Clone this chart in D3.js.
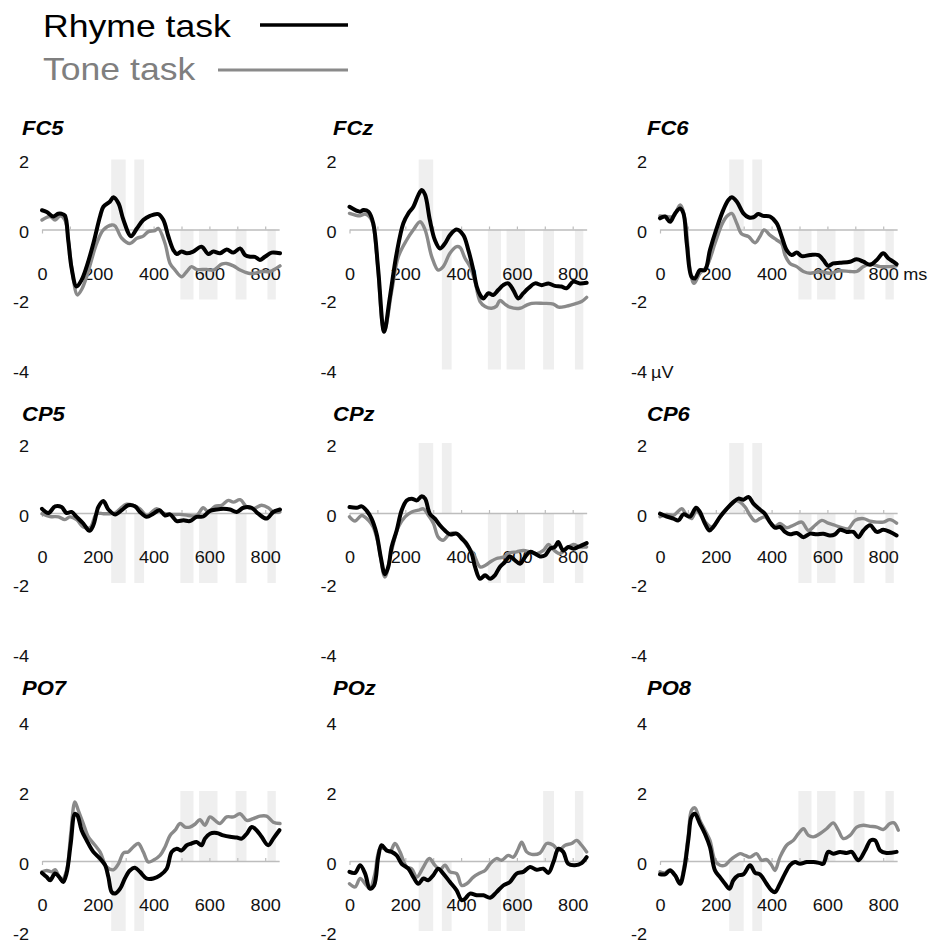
<!DOCTYPE html>
<html>
<head>
<meta charset="utf-8">
<script src="https://cdn.jsdelivr.net/npm/d3@7"></script>
<style>
  html, body { margin: 0; padding: 0; background: #fff; }
  svg { display: block; }
</style>
</head>
<body>
<svg id="chart" width="936" height="944"></svg>
<script>
// ERP grand averages (µV) for the rhyme and tone tasks at nine electrodes, as [ms, µV]
const electrodes = ["FC5", "FCz", "FC6", "CP5", "CPz", "CP6", "PO7", "POz", "PO8"];
const seriesNames = ["Rhyme task", "Tone task"];

const fc5Rhyme = [[0,0.55],[17,0.5],[40,0.37],[58,0.45],[70,0.45],[82,0.4],[94,-0.3],[106,-1.1],[124,-1.63],[142,-1.44],[160,-1.06],[184,-0.4],[208,0.37],[220,0.65],[244,0.8],[256,0.92],[274,0.75],[292,0.27],[319,-0.19],[340,0.03],[363,0.27],[387,0.39],[417,0.44],[435,0.27],[453,-0.2],[471,-0.59],[483,-0.7],[500,-0.63],[519,-0.68],[542,-0.63],[572,-0.49],[596,-0.7],[614,-0.63],[638,-0.68],[662,-0.57],[686,-0.66],[710,-0.54],[728,-0.73],[746,-0.78],[763,-0.78],[781,-0.87],[799,-0.78],[823,-0.66],[853,-0.68]];
const fc5Tone = [[0,0.27],[29,0.37],[47,0.27],[65,0.39],[82,0.27],[96,-0.4],[110,-1.3],[127,-1.87],[143,-1.7],[160,-1.35],[196,-0.4],[220,-0.01],[250,0.13],[262,0.1],[286,-0.25],[315,-0.4],[340,-0.25],[363,-0.19],[381,-0.06],[405,-0.03],[417,0.03],[441,-0.4],[459,-0.97],[477,-1.16],[500,-1.35],[519,-1.2],[536,-1.06],[554,-1.14],[590,-1.14],[614,-1.16],[644,-0.99],[662,-0.97],[686,-1.04],[710,-1.16],[740,-1.25],[763,-1.25],[787,-1.2],[817,-1.2],[853,-1.04]];

const fczRhyme = [[0,0.65],[38,0.51],[50,0.56],[68,0.51],[85,0.18],[103,-1.16],[124,-2.92],[145,-1.92],[169,-0.68],[193,0.18],[211,0.46],[229,0.65],[247,0.99],[259,1.13],[271,0.99],[288,0.27],[306,-0.3],[324,-0.54],[342,-0.4],[360,-0.16],[384,0],[408,-0.16],[426,-0.59],[444,-1.16],[456,-1.63],[468,-1.87],[480,-1.97],[498,-1.82],[515,-1.87],[533,-1.73],[551,-1.59],[569,-1.54],[587,-1.73],[605,-1.97],[623,-1.82],[641,-1.68],[665,-1.54],[689,-1.59],[713,-1.54],[736,-1.61],[760,-1.63],[778,-1.68],[802,-1.49],[826,-1.54],[850,-1.52]];
const fczTone = [[0,0.46],[38,0.39],[56,0.44],[79,0.27],[97,-0.68],[124,-2.92],[152,-1.73],[175,-0.78],[205,-0.3],[229,-0.01],[253,0.22],[271,-0.01],[295,-0.78],[318,-1.16],[336,-1.06],[360,-0.68],[384,-0.49],[396,-0.51],[414,-0.82],[432,-1.06],[450,-1.49],[468,-2.06],[486,-2.2],[509,-2.25],[527,-2.19],[539,-2.03],[557,-2.13],[575,-2.22],[611,-2.25],[635,-2.16],[653,-2.11],[695,-2.11],[731,-2.13],[749,-2.22],[778,-2.19],[814,-2.11],[832,-2.06],[850,-1.94]];

const fc6Rhyme = [[0,0.32],[18,0.37],[36,0.22],[54,0.46],[72,0.6],[84,0.46],[96,-0.4],[113,-1.35],[125,-1.4],[143,-1.16],[161,-1.16],[179,-0.59],[203,0.03],[227,0.56],[245,0.84],[257,0.92],[275,0.8],[299,0.46],[317,0.35],[335,0.35],[352,0.44],[370,0.39],[394,0.37],[418,0.18],[436,-0.2],[454,-0.59],[472,-0.73],[490,-0.66],[508,-0.76],[538,-0.73],[568,-0.73],[585,-0.87],[603,-1.04],[621,-0.97],[645,-0.95],[681,-0.92],[705,-0.85],[729,-0.92],[753,-1.01],[777,-0.87],[800,-0.68],[818,-0.82],[836,-0.92],[848,-0.99]];
const fc6Tone = [[0,0.39],[24,0.37],[48,0.37],[72,0.7],[90,0.27],[108,-1.16],[122,-1.54],[143,-1.25],[167,-1.06],[197,-0.4],[221,0.13],[239,0.37],[257,0.46],[275,0.18],[293,-0.13],[317,-0.2],[341,-0.38],[358,-0.2],[373,-0.01],[394,-0.16],[418,-0.3],[436,-0.4],[448,-0.73],[466,-0.97],[490,-1.06],[514,-1.2],[538,-1.25],[573,-1.2],[609,-1.25],[645,-1.18],[681,-1.2],[705,-1.2],[729,-1.06],[753,-0.99],[789,-1.06],[824,-1.06],[848,-1.04]];

const cp5Rhyme = [[0,0.12],[23,0],[47,0.19],[70,0.17],[88,0],[106,0.03],[124,-0.11],[148,-0.3],[170,-0.51],[184,-0.35],[202,0.17],[220,0.34],[238,0.1],[262,-0.04],[286,0.08],[309,0.22],[333,0.19],[351,0.03],[375,-0.11],[399,-0.02],[421,0.08],[441,-0.07],[459,-0.04],[483,-0.23],[507,-0.21],[530,-0.23],[554,-0.11],[578,-0.1],[602,0.06],[626,0.1],[650,0.12],[674,0.1],[698,0.03],[722,0.15],[751,0.15],[775,-0.02],[805,-0.16],[829,0.03],[853,0.1]];
const cp5Tone = [[0,-0.02],[29,-0.1],[59,-0.11],[82,-0.19],[100,-0.11],[124,-0.19],[148,-0.4],[172,-0.42],[196,-0.02],[220,-0.02],[244,-0.02],[262,0],[280,0.12],[303,0.25],[327,0.22],[351,0.12],[375,-0.07],[411,0.12],[435,0],[459,-0.04],[495,-0.04],[524,-0.07],[554,-0.07],[578,0.15],[596,0.03],[620,0.19],[644,0.22],[668,0.36],[686,0.31],[710,0.38],[734,0.17],[757,0.12],[787,0.22],[811,0.15],[829,0.03],[853,0.03]];

const cpzRhyme = [[0,0.17],[26,0.15],[44,0.19],[62,0.06],[79,-0.16],[97,-0.59],[112,-1.26],[127,-1.75],[139,-1.54],[151,-0.97],[169,-0.5],[187,0.08],[205,0.36],[223,0.41],[241,0.36],[259,0.48],[271,0.41],[288,-0.02],[306,-0.16],[324,-0.35],[342,-0.5],[360,-0.61],[384,-0.59],[402,-0.73],[420,-0.88],[438,-1.16],[450,-1.54],[468,-1.88],[486,-1.78],[504,-1.88],[521,-1.78],[539,-1.54],[557,-1.4],[575,-1.24],[593,-1.35],[611,-1.45],[629,-1.26],[647,-1.11],[665,-1.16],[683,-1.24],[701,-1.21],[719,-1.02],[736,-0.97],[748,-0.83],[766,-1.07],[784,-0.97],[802,-1.02],[820,-0.97],[850,-0.86]];
const cpzTone = [[0,-0.11],[20,-0.23],[44,-0.07],[68,-0.21],[85,-0.4],[103,-0.88],[127,-1.83],[151,-1.07],[175,-0.4],[199,-0.11],[223,0.03],[247,0.08],[265,0.12],[283,-0.07],[301,-0.3],[318,-0.69],[336,-0.78],[360,-0.59],[384,-0.59],[402,-0.69],[420,-0.92],[444,-1.16],[468,-1.54],[486,-1.5],[504,-1.4],[527,-1.3],[551,-1.26],[575,-1.14],[599,-1.11],[623,-1.07],[647,-1.11],[671,-1.16],[695,-1.07],[713,-0.9],[731,-1.05],[754,-1.16],[778,-1.02],[802,-0.9],[826,-0.97],[850,-0.97]];

const cp6Rhyme = [[0,-0.02],[24,-0.1],[48,-0.16],[66,-0.21],[84,-0.04],[108,-0.1],[129,0.15],[143,0.03],[161,-0.3],[177,-0.5],[191,-0.4],[215,-0.11],[239,0.12],[263,0.31],[281,0.41],[299,0.38],[317,0.46],[335,0.27],[358,0.1],[376,-0.02],[394,-0.26],[412,-0.42],[430,-0.4],[448,-0.54],[466,-0.61],[490,-0.57],[514,-0.69],[538,-0.59],[562,-0.61],[585,-0.59],[609,-0.64],[627,-0.61],[645,-0.48],[669,-0.54],[693,-0.54],[711,-0.69],[729,-0.5],[753,-0.35],[777,-0.54],[800,-0.48],[824,-0.54],[848,-0.64]];
const cp6Tone = [[0,-0.11],[24,-0.04],[48,-0.07],[78,0.12],[96,-0.07],[113,-0.16],[131,0.08],[149,-0.11],[167,-0.3],[185,-0.4],[203,-0.26],[227,0],[251,0.22],[269,0.36],[287,0.31],[305,0.17],[323,-0.07],[341,-0.23],[358,-0.16],[376,-0.11],[394,-0.26],[412,-0.38],[430,-0.3],[454,-0.42],[478,-0.35],[508,-0.26],[532,-0.5],[556,-0.35],[580,-0.21],[603,-0.29],[627,-0.35],[651,-0.42],[675,-0.45],[699,-0.21],[729,-0.16],[753,-0.23],[777,-0.26],[800,-0.26],[824,-0.19],[848,-0.29]];

const po7Rhyme = [[0,-0.34],[17,-0.46],[29,-0.55],[47,-0.36],[62,-0.46],[76,-0.6],[88,-0.36],[103,0.5],[118,1.35],[127,1.3],[142,0.88],[160,0.59],[184,0.26],[208,0.07],[226,-0.12],[238,-0.46],[250,-0.89],[262,-0.93],[280,-0.79],[297,-0.5],[315,-0.27],[333,-0.19],[351,-0.31],[375,-0.5],[399,-0.5],[423,-0.41],[447,-0.22],[465,0.26],[483,0.35],[500,0.3],[519,0.45],[536,0.5],[554,0.54],[572,0.45],[584,0.64],[602,0.78],[626,0.8],[650,0.73],[674,0.69],[698,0.67],[716,0.64],[734,0.78],[752,0.97],[769,0.88],[787,0.69],[811,0.45],[829,0.64],[851,0.88]];
const po7Tone = [[0,-0.31],[17,-0.27],[35,-0.31],[47,-0.25],[70,-0.55],[88,-0.27],[103,0.78],[118,1.69],[130,1.45],[148,1.07],[166,0.69],[190,0.45],[208,0.26],[232,-0.17],[256,-0.25],[274,-0.08],[292,0.23],[309,0.26],[327,0.4],[345,0.5],[363,0.26],[381,-0.03],[399,0.02],[423,0.16],[441,0.4],[459,0.73],[477,0.88],[495,1.07],[513,0.97],[530,0.97],[548,1.05],[566,1.18],[584,1.02],[602,1.26],[620,1.16],[638,1.07],[662,1.26],[686,1.26],[710,1.35],[734,1.16],[757,1.21],[781,1.28],[805,1.28],[829,1.11],[853,1.07]];

const pozRhyme = [[0,-0.31],[20,-0.34],[38,-0.12],[56,-0.36],[73,-0.79],[88,-0.7],[103,0.11],[115,0.45],[133,0.3],[151,0.26],[169,0.16],[187,-0.08],[211,-0.22],[229,-0.46],[247,-0.65],[265,-0.5],[282,-0.55],[300,-0.41],[318,-0.22],[336,-0.36],[360,-0.6],[384,-0.84],[402,-1.12],[414,-1.08],[432,-0.93],[456,-0.98],[480,-0.98],[504,-1.05],[527,-0.89],[551,-0.7],[575,-0.6],[599,-0.36],[623,-0.31],[647,-0.17],[671,-0.25],[695,-0.22],[713,-0.34],[731,-0.03],[749,0.35],[766,0.26],[784,-0.08],[808,-0.12],[832,-0.06],[850,0.11]];
const pozTone = [[0,-0.65],[20,-0.74],[38,-0.5],[56,-0.65],[73,-0.79],[91,-0.36],[109,0.35],[127,0.35],[145,0.26],[163,0.5],[181,0.26],[205,-0.17],[223,-0.22],[241,-0.46],[265,-0.17],[286,0.07],[306,-0.12],[324,-0.25],[342,-0.12],[360,-0.31],[384,-0.36],[402,-0.7],[420,-0.65],[444,-0.46],[468,-0.34],[486,-0.27],[504,-0.08],[527,0.07],[545,0.02],[569,0.16],[587,0.11],[605,0.35],[617,0.54],[635,0.26],[653,0.19],[683,0.23],[707,0.5],[731,0.45],[749,0.3],[773,0.45],[796,0.5],[814,0.59],[832,0.45],[850,0.26]];

const po8Rhyme = [[0,-0.38],[18,-0.38],[36,-0.27],[54,-0.41],[72,-0.65],[86,-0.27],[102,0.64],[113,1.26],[125,1.35],[143,1.07],[161,0.78],[179,0.4],[197,-0.27],[215,-0.46],[233,-0.65],[249,-0.79],[263,-0.55],[281,-0.41],[299,-0.38],[323,-0.12],[341,-0.34],[358,-0.38],[382,-0.65],[400,-0.84],[412,-0.89],[430,-0.65],[448,-0.36],[466,-0.12],[484,-0.03],[502,-0.08],[526,-0.03],[550,-0.03],[573,-0.06],[585,-0.08],[603,0.26],[621,0.21],[645,0.26],[669,0.23],[687,0.26],[711,0.02],[735,0.3],[755,0.59],[771,0.59],[789,0.3],[812,0.23],[848,0.26]];
const po8Tone = [[0,-0.31],[18,-0.34],[36,-0.25],[54,-0.41],[72,-0.6],[86,-0.17],[102,0.78],[113,1.45],[125,1.52],[143,1.16],[161,0.88],[179,0.59],[197,0.02],[215,-0.12],[233,-0.12],[251,0.02],[269,0.13],[287,0.21],[305,0.16],[323,0.11],[346,0.21],[364,0.02],[382,0.04],[400,-0.12],[412,-0.27],[430,0.11],[454,0.45],[478,0.59],[496,0.78],[514,0.92],[532,0.73],[550,0.69],[573,0.78],[597,0.92],[621,1.09],[639,0.88],[657,0.64],[681,0.73],[705,0.97],[729,1.02],[753,0.99],[777,0.97],[800,0.9],[824,1.07],[839,1.09],[854,0.88]];

const rhymeSeries = [fc5Rhyme, fczRhyme, fc6Rhyme, cp5Rhyme, cpzRhyme, cp6Rhyme, po7Rhyme, pozRhyme, po8Rhyme];
const toneSeries = [fc5Tone, fczTone, fc6Tone, cp5Tone, cpzTone, cp6Tone, po7Tone, pozTone, po8Tone];

// Time windows (ms) with a significant task difference
const sigWindows = [[248, 300], [331, 366], [496, 543], [563, 629], [694, 733], [808, 838]];
// Vertical extent (µV) of each window's shading, per electrode
const up = [0, 2], dn2 = [-2, 0], dn4 = [-4, 0];
const sigExtents = [
  [up, up, dn2, dn2, dn2, dn2],        // FC5
  [up, dn4, dn4, dn4, dn4, dn4],       // FCz
  [up, up, dn2, dn2, dn2, dn2],        // FC6
  [dn2, dn2, dn2, dn2, dn2, dn2],      // CP5
  [up, up, dn2, dn2, dn2, dn2],        // CPz
  [up, up, dn2, dn2, dn2, dn2],        // CP6
  [dn2, dn2, up, up, up, up],          // PO7
  [dn2, dn2, dn2, dn2, up, up],        // POz
  [dn2, dn2, up, up, up, up]           // PO8
];

const timeTicks = [0, 100, 200, 300, 400, 500, 600, 700, 800];
const uvTicksUpper = [-4, -2, 0, 2];
const uvTicksLower = [-2, 0, 2, 4];

// ---- layout ----
const SX = 1.13;                      // horizontal glyph stretch
const FONT = '"Liberation Sans", Arial, Helvetica, sans-serif';
const colX0 = [42, 349.5, 660];
const rowZero = [229.5, 513, 861];
const titleX = [22, 333, 647];
const titleY = [135, 421, 695];
const PX_PER_MS = 0.279, PX_PER_UV = 35, T_END = 850;
const BLACK = "#000", GRAY = "#8a8a8a", SHADE = "#efefef", AXIS = "#bdbdbd";

const svg = d3.select("#chart");
svg.append("rect").attr("width", 936).attr("height", 944).attr("fill", "#fff");

function addText(g, x, y, str, o) {
  return g.append("text")
    .attr("transform", `translate(${x},${y}) scale(${SX},1)`)
    .attr("font-family", FONT)
    .attr("font-size", o.size)
    .attr("font-weight", o.weight || "normal")
    .attr("font-style", o.style || "normal")
    .attr("text-anchor", o.anchor || "start")
    .attr("dy", o.dy || null)
    .attr("fill", o.fill || "#111")
    .text(str);
}

// ---- legend ----
const legend = svg.append("g");
addText(legend, 43, 36.5, seriesNames[0], { size: 31.5, fill: "#000" });
addText(legend, 43, 80, seriesNames[1], { size: 31.5, fill: "#7f7f7f" });
legend.append("line").attr("x1", 260).attr("x2", 348).attr("y1", 25).attr("y2", 25)
  .attr("stroke", BLACK).attr("stroke-width", 3.5);
legend.append("line").attr("x1", 218).attr("x2", 348).attr("y1", 70).attr("y2", 70)
  .attr("stroke", GRAY).attr("stroke-width", 3.2);

// ---- panels ----
electrodes.forEach((name, i) => {
  const r = Math.floor(i / 3), c = i % 3;
  const x0 = colX0[c], zero = rowZero[r];
  const yDom = r < 2 ? [-4, 2] : [-2, 4];
  const yTicks = r < 2 ? uvTicksUpper : uvTicksLower;

  const x = d3.scaleLinear().domain([0, T_END]).range([x0, x0 + PX_PER_MS * T_END]);
  const y = d3.scaleLinear().domain(yDom).range([zero - PX_PER_UV * yDom[0], zero - PX_PER_UV * yDom[1]]);

  const g = svg.append("g");

  // significance shading
  g.append("g").selectAll("rect")
    .data(sigWindows.map((w, k) => ({ w, e: sigExtents[i][k] })))
    .join("rect")
    .attr("x", d => x(d.w[0]))
    .attr("width", d => x(d.w[1]) - x(d.w[0]))
    .attr("y", d => y(d.e[1]))
    .attr("height", d => y(d.e[0]) - y(d.e[1]))
    .attr("fill", SHADE);

  // time axis on the zero line
  const xAxis = d3.axisBottom(x)
    .tickValues(timeTicks)
    .tickSizeInner(-3)
    .tickSizeOuter(0)
    .tickPadding(39)
    .tickFormat(d => d % 200 === 0 ? String(d) : "");
  const xg = g.append("g").attr("transform", `translate(0,${y(0)})`).call(xAxis);
  xg.select(".domain").attr("stroke", AXIS).attr("stroke-width", 1.4);
  xg.selectAll(".tick line").attr("stroke", AXIS).attr("stroke-width", 1.2)
    .attr("y2", d => d === 0 ? 4 : -3);
  xg.selectAll(".tick text")
    .attr("font-family", FONT).attr("font-size", 16).attr("fill", "#111")
    .attr("transform", `scale(${SX},1)`);

  // voltage labels
  const yAxis = d3.axisLeft(y).tickValues(yTicks).tickSize(0).tickPadding(0)
    .tickFormat(d => String(d));
  const yg = g.append("g").attr("transform", `translate(${x0},0)`).call(yAxis);
  yg.select(".domain").remove();
  yg.selectAll(".tick text")
    .attr("x", 0)
    .attr("font-family", FONT).attr("font-size", 16).attr("fill", "#111")
    .attr("transform", `translate(-13,3) scale(${SX},1)`);

  // waveforms
  const line = d3.line()
    .x(d => x(d[0]))
    .y(d => y(d[1]))
    .curve(d3.curveCatmullRom.alpha(0.5));
  g.append("path").datum(toneSeries[i]).attr("d", line)
    .attr("fill", "none").attr("stroke", GRAY).attr("stroke-width", 3.4)
    .attr("stroke-linejoin", "round").attr("stroke-linecap", "round");
  g.append("path").datum(rhymeSeries[i]).attr("d", line)
    .attr("fill", "none").attr("stroke", BLACK).attr("stroke-width", 4)
    .attr("stroke-linejoin", "round").attr("stroke-linecap", "round");

  // electrode name
  addText(g, titleX[c], titleY[r], name, { size: 19.5, weight: "bold", style: "italic", fill: "#000" });

  // units on the right-hand frontal panel
  if (name === "FC6") {
    addText(g, x(T_END) + 6, y(0) + 45, "ms", { size: 16, dy: "0.35em" });
    addText(g, x0 - 9, y(-4) + 3, "µV", { size: 16, dy: "0.32em" });
  }
});
</script>
</body>
</html>
